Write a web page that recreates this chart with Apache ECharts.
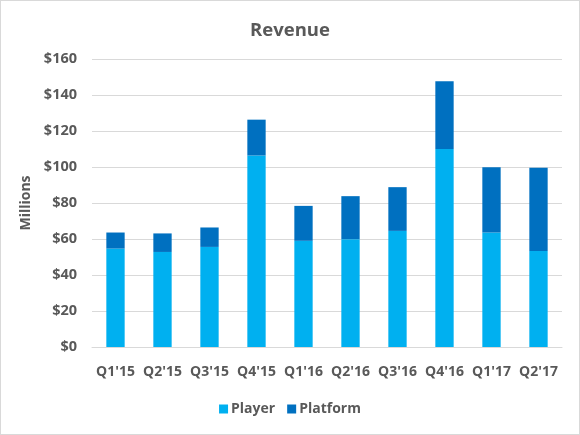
<!DOCTYPE html>
<html>
<head>
<meta charset="utf-8">
<script src="https://cdn.jsdelivr.net/npm/echarts@6/dist/echarts.min.js"></script>
<style>
  html, body { margin: 0; padding: 0; background: #fff; }
  #chart { width: 578px; height: 433px; border: 1px solid #d9d9d9; }
</style>
</head>
<body>
<div id="chart"></div>
<script>
// 数据
const quarters = ["Q1'15", "Q2'15", "Q3'15", "Q4'15", "Q1'16", "Q2'16", "Q3'16", "Q4'16", "Q1'17", "Q2'17"];
const player = [54.7, 52.8, 55.6, 106.4, 59.0, 59.9, 64.5, 110.0, 63.6, 53.4];
const platform = [8.9, 10.3, 10.8, 19.9, 19.4, 23.9, 24.3, 37.6, 36.3, 46.2];

const textColor = '#595959';
const font = '"Open Sans", sans-serif';

let chart = echarts.init(document.getElementById('chart'));

let option = {
    animation: false,
    title: {
        text: 'Revenue',
        left: 'center',
        top: 15,
        textStyle: { fontSize: 18.5, fontWeight: 'bold', color: textColor, fontFamily: font }
    },
    legend: {
        bottom: 13,
        left: 'center',
        itemWidth: 9,
        itemHeight: 9,
        itemGap: 12,
        icon: 'rect',
        textStyle: { fontSize: 14, fontWeight: 'bold', color: textColor, fontFamily: font, padding: [0, 0, 0, -2] },
        data: ['Player', 'Platform']
    },
    grid: {
        left: 91,
        right: 17,
        top: 58,
        bottom: 87
    },
    xAxis: {
        type: 'category',
        data: quarters,
        axisTick: { show: false },
        axisLine: { lineStyle: { color: '#d9d9d9', width: 1 } },
        axisLabel: { interval: 0, hideOverlap: false, color: textColor, fontSize: 14, fontWeight: 'bold', fontFamily: font, margin: 18 }
    },
    yAxis: {
        type: 'value',
        min: 0,
        max: 160,
        interval: 20,
        name: 'Millions',
        nameLocation: 'middle',
        nameGap: 52,
        nameTextStyle: { color: textColor, fontSize: 14, fontWeight: 'bold', fontFamily: font },
        axisLine: { show: false },
        axisTick: { show: false },
        splitLine: { lineStyle: { color: '#d9d9d9', width: 1 } },
        axisLabel: {
            color: textColor, fontSize: 14.5, fontWeight: 'bold', fontFamily: font, margin: 15,
            formatter: v => '$' + v
        }
    },
    series: [
        {
            name: 'Player',
            type: 'bar',
            stack: 'total',
            barWidth: '39%',
            data: player,
            itemStyle: { color: '#00B0F0' }
        },
        {
            name: 'Platform',
            type: 'bar',
            stack: 'total',
            barWidth: '39%',
            data: platform,
            itemStyle: { color: '#0070C0' }
        }
    ]
};

chart.setOption(option);
</script>
</body>
</html>
